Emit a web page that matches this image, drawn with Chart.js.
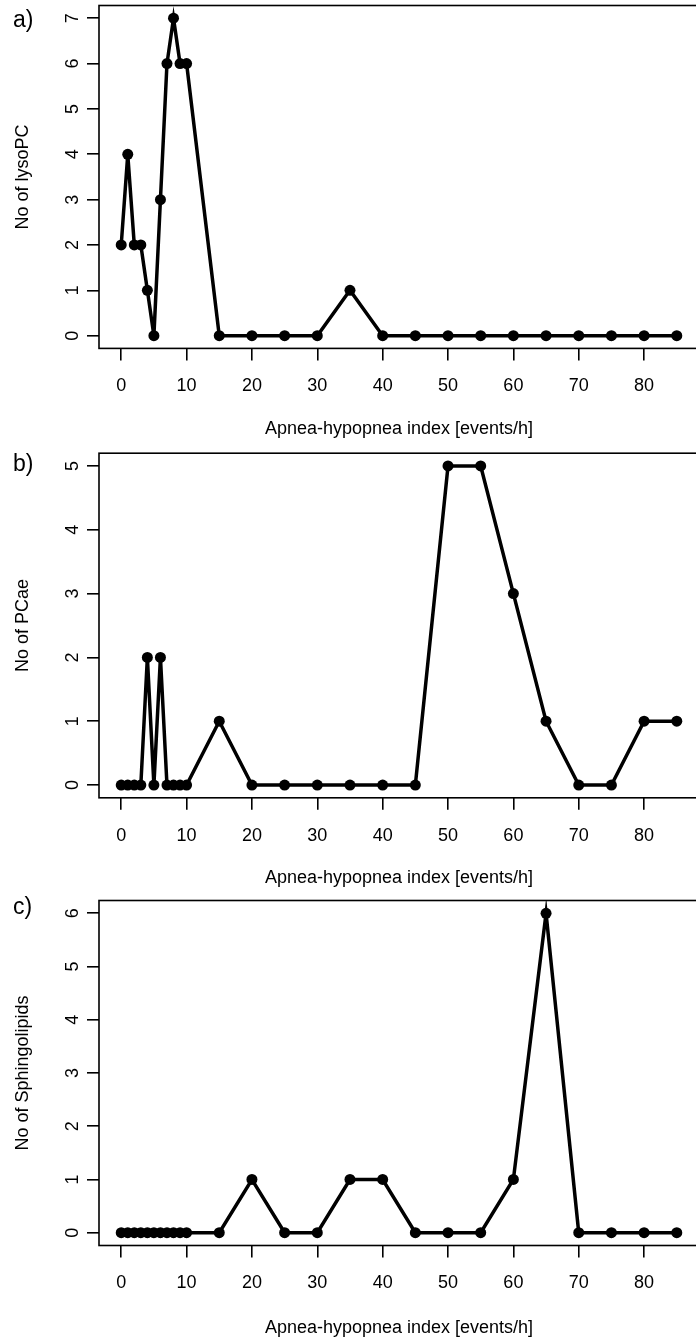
<!DOCTYPE html>
<html>
<head>
<meta charset="utf-8">
<script src="https://cdn.jsdelivr.net/npm/chart.js@4"></script>
<style>
  html, body { margin: 0; padding: 0; background: #fff; overflow: hidden; }
  canvas { position: absolute; left: 0; }
</style>
</head>
<body>
<canvas id="panelA" width="720" height="440" style="top:0px"></canvas>
<canvas id="panelB" width="720" height="449" style="top:440px"></canvas>
<canvas id="panelC" width="720" height="450" style="top:889px"></canvas>
<script>
// apnea-hypopnea index values (x) shared by the three panels
const ahi = [0, 1, 2, 3, 4, 5, 6, 7, 8, 9, 10, 15, 20, 25, 30, 35, 40, 45, 50, 55, 60, 65, 70, 75, 80, 85];
const lysoPC = [2, 4, 2, 2, 1, 0, 3, 6, 7, 6, 6, 0, 0, 0, 0, 1, 0, 0, 0, 0, 0, 0, 0, 0, 0, 0];
const pcae = [0, 0, 0, 0, 2, 0, 2, 0, 0, 0, 0, 1, 0, 0, 0, 0, 0, 0, 5, 5, 3, 1, 0, 0, 1, 1];
const sphingo = [0, 0, 0, 0, 0, 0, 0, 0, 0, 0, 0, 0, 1, 0, 0, 1, 1, 0, 0, 0, 1, 6, 0, 0, 0, 0];

const xTicks = [0, 10, 20, 30, 40, 50, 60, 70, 80];
const yTicksA = [0, 1, 2, 3, 4, 5, 6, 7];
const yTicksB = [0, 1, 2, 3, 4, 5];
const yTicksC = [0, 1, 2, 3, 4, 5, 6];

const FONT = '"Liberation Sans", Arial, Helvetica, sans-serif';

// box around plot area + rotated y tick labels + panel letter
const frameAndLabels = {
    id: 'frameAndLabels',
    afterDraw(chart, args, opts) {
        const { ctx, chartArea: a } = chart;
        const y = chart.scales.y;
        ctx.save();
        ctx.lineWidth = 1.6;
        ctx.strokeStyle = '#000';
        ctx.strokeRect(a.left, a.top, a.right - a.left, a.bottom - a.top);
        ctx.fillStyle = '#000';
        ctx.font = '18px ' + FONT;
        ctx.textAlign = 'center';
        ctx.textBaseline = 'alphabetic';
        y.ticks.forEach(t => {
            ctx.save();
            ctx.translate(78, y.getPixelForValue(t.value));
            ctx.rotate(-Math.PI / 2);
            ctx.fillText(String(t.value), 0, 0);
            ctx.restore();
        });
        ctx.font = '23px ' + FONT;
        ctx.textAlign = 'left';
        ctx.fillText(opts.tag, 13, opts.tagY);
        ctx.restore();
    }
};

function makePanel(id, values, yTicks, yTitle, tag, tagY, padTop, xHeight) {
    const pad = (yTicks[yTicks.length - 1] - yTicks[0]) * 0.04;
    return new Chart(document.getElementById(id), {
        type: 'scatter',
        data: {
            datasets: [{
                data: ahi.map((x, i) => ({ x: x, y: values[i] })),
                showLine: true,
                borderColor: '#000',
                borderWidth: 3.5,
                pointRadius: 5.5,
                pointBackgroundColor: '#000',
                pointBorderWidth: 0,
                tension: 0
            }]
        },
        options: {
            responsive: false,
            animation: false,
            devicePixelRatio: 1,
            layout: { padding: { top: padTop, left: 0, right: 21, bottom: 0 } },
            plugins: {
                legend: { display: false },
                tooltip: { enabled: false },
                frameAndLabels: { tag: tag, tagY: tagY }
            },
            scales: {
                x: {
                    type: 'linear',
                    min: -3.4,
                    max: 88.4,
                    afterBuildTicks: s => { s.ticks = xTicks.map(v => ({ value: v })); },
                    afterFit: s => { s.height = xHeight; },
                    border: { display: false },
                    grid: { drawOnChartArea: false, drawTicks: true, tickLength: 12, color: '#000', lineWidth: 1.6 },
                    ticks: { color: '#000', padding: 15, maxRotation: 0, autoSkip: false, font: { family: FONT, size: 18 } },
                    title: {
                        display: true,
                        text: 'Apnea-hypopnea index [events/h]',
                        color: '#000',
                        font: { family: FONT, size: 18 },
                        padding: { top: 0, bottom: 0 }
                    }
                },
                y: {
                    type: 'linear',
                    min: yTicks[0] - pad,
                    max: yTicks[yTicks.length - 1] + pad,
                    afterBuildTicks: s => { s.ticks = yTicks.map(v => ({ value: v })); },
                    afterFit: s => { s.width = 99; },
                    border: { display: false },
                    grid: { drawOnChartArea: false, drawTicks: true, tickLength: 12, color: '#000', lineWidth: 1.6 },
                    ticks: { display: false },
                    title: {
                        display: true,
                        text: yTitle,
                        color: '#000',
                        font: { family: FONT, size: 18 },
                        padding: { top: 12, bottom: 0 }
                    }
                }
            }
        },
        plugins: [frameAndLabels]
    });
}

makePanel('panelA', lysoPC, yTicksA, 'No of lysoPC', 'a)', 27, 5.4, 91.6);
makePanel('panelB', pcae, yTicksB, 'No of PCae', 'b)', 31, 13.2, 91.2);
makePanel('panelC', sphingo, yTicksC, 'No of Sphingolipids', 'c)', 25, 11.5, 93.5);
</script>
</body>
</html>
